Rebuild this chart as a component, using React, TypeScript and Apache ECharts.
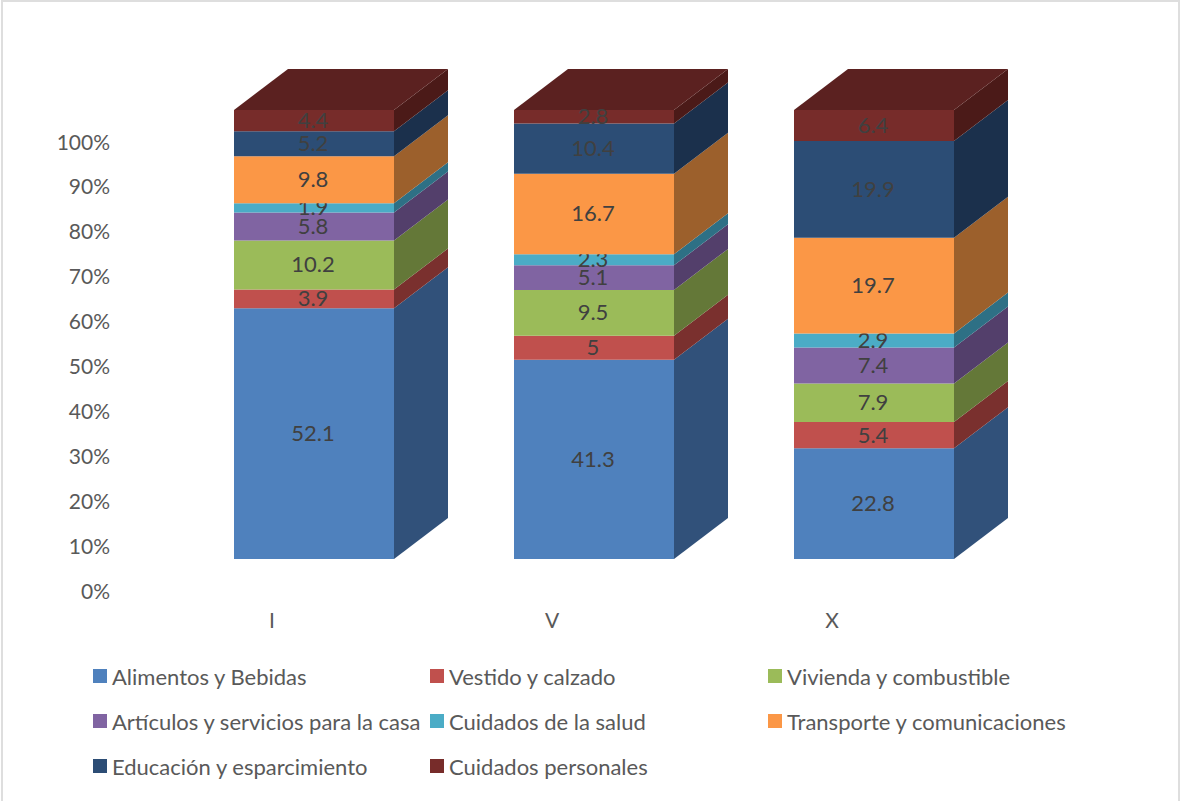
import React, { useEffect, useRef } from "react";
import * as echarts from "echarts";

const FONT = "Lato, 'Noto Sans', sans-serif";
const categories = ["I", "V", "X"];
const seriesNames = [
  "Alimentos y Bebidas", "Vestido y calzado", "Vivienda y combustible",
  "Artículos y servicios para la casa", "Cuidados de la salud", "Transporte y comunicaciones",
  "Educación y esparcimiento", "Cuidados personales",
];
const alimentos = [52.1, 41.3, 22.8];
const vestido = [3.9, 5, 5.4];
const vivienda = [10.2, 9.5, 7.9];
const articulos = [5.8, 5.1, 7.4];
const salud = [1.9, 2.3, 2.9];
const transporte = [9.8, 16.7, 19.7];
const educacion = [5.2, 10.4, 19.9];
const personales = [4.4, 2.8, 6.4];
const rows = [alimentos, vestido, vivienda, articulos, salud, transporte, educacion, personales];
const frontColors = ["#4F81BD", "#C0504D", "#9BBB59", "#8064A2", "#4BACC6", "#FB9746", "#2C4D75", "#772C2A"];
const sideColors = ["#31517A", "#7A302E", "#647838", "#533F6B", "#2E7085", "#9C602C", "#1B304C", "#4B1A18"];
const topColor = "#5B2120";

const totals = categories.map((_, c) => rows.reduce((s, r) => s + r[c], 0));
const DEPTH_X = 54, DEPTH_Y = 41, LIFT = 31, SHIFT = 42, HALF = 80;

function buildSeries() {
  return rows.map((row, s) => {
    const data = row.map((v, c) => {
      let start = 0;
      for (let k = 0; k < s; k++) start += rows[k][c];
      return [c, (start / totals[c]) * 100, ((start + v) / totals[c]) * 100, v];
    });
    return {
      type: "custom",
      name: seriesNames[s],
      itemStyle: { color: frontColors[s] },
      encode: { x: 0, y: [1, 2] },
      data,
      z: 2 + s,
      renderItem: (_: any, api: any) => {
        const c = api.value(0);
        const bottom = api.coord([c, api.value(1)]);
        const top = api.coord([c, api.value(2)]);
        const l = bottom[0] + SHIFT - HALF, r = bottom[0] + SHIFT + HALF;
        const yb = bottom[1] - LIFT, yt = top[1] - LIFT;
        const children: any[] = [
          { type: "rect", shape: { x: l, y: yt, width: r - l, height: yb - yt }, style: { fill: frontColors[s] } },
          { type: "polygon", shape: { points: [[r, yt], [r + DEPTH_X, yt - DEPTH_Y], [r + DEPTH_X, yb - DEPTH_Y], [r, yb]] }, style: { fill: sideColors[s] } },
        ];
        if (s === rows.length - 1) {
          children.push({ type: "polygon", shape: { points: [[l, yt], [l + DEPTH_X, yt - DEPTH_Y], [r + DEPTH_X, yt - DEPTH_Y], [r, yt]] }, style: { fill: topColor } });
        }
        children.push({
          type: "text", z2: 100,
          style: { x: (l + r) / 2 - 1, y: (yt + yb) / 2 - 1, text: String(api.value(3)), fill: "#404040", font: `22px ${FONT}`, align: "center", verticalAlign: "middle" },
        });
        return { type: "group", children };
      },
    };
  });
}

function legendColumn(names: string[], left: number) {
  return {
    left, top: 659, orient: "vertical", icon: "rect", itemWidth: 14, itemHeight: 14, itemGap: 21,
    data: names, selectedMode: false,
    textStyle: { color: "#595959", fontFamily: FONT, fontSize: 22, lineHeight: 24 },
  };
}

export default function App() {
  const ref = useRef<HTMLDivElement>(null);
  useEffect(() => {
    document.body.style.margin = "0";
    const chart = echarts.init(ref.current!, null, { renderer: "svg" });
    chart.setOption({
      animation: false,
      backgroundColor: "#fff",
      grid: { left: 132, right: 208, top: 141, bottom: 211 },
      xAxis: {
        type: "category", data: categories,
        axisLine: { show: false }, axisTick: { show: false },
        axisLabel: { color: "#595959", fontFamily: FONT, fontSize: 21, margin: 19 },
      },
      yAxis: {
        type: "value", min: 0, max: 100, interval: 10,
        splitLine: { show: false }, axisLine: { show: false }, axisTick: { show: false },
        axisLabel: { color: "#595959", fontFamily: FONT, fontSize: 21, margin: 22, padding: [0, 0, 2, 0], formatter: (v: number) => `${v}%` },
      },
      legend: [
        legendColumn([seriesNames[0], seriesNames[3], seriesNames[6]], 88),
        legendColumn([seriesNames[1], seriesNames[4], seriesNames[7]], 425),
        legendColumn([seriesNames[2], seriesNames[5]], 763),
      ],
      graphic: [{
        type: "rect", shape: { x: 2, y: 1, width: 1177, height: 810 }, silent: true,
        style: { fill: "none", stroke: "#DEDEDE", lineWidth: 2 },
      }],
      series: buildSeries(),
    });
    return () => chart.dispose();
  }, []);
  return <div ref={ref} style={{ width: 1180, height: 801 }} />;
}
